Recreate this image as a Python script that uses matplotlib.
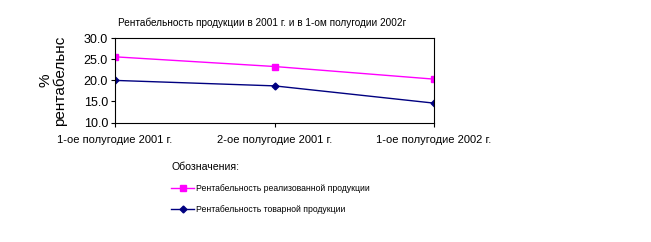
import matplotlib
matplotlib.use("Agg")
from matplotlib import pyplot as plt

periods = ["1-ое полугодие 2001 г.", "2-ое полугодие 2001 г.", "1-ое полугодие 2002 г."]
realized = [25.6, 23.3, 20.3]
commodity = [20.0, 18.7, 14.6]

plt.rcParams['font.family'] = ['Liberation Sans', 'DejaVu Sans']

fig = plt.figure(figsize=(6.51, 2.42), dpi=100)
ax = fig.add_axes([115/651, 1-122.5/242, (434-115)/651, (122.5-38.3)/242])

x = range(len(periods))
l1, = ax.plot(x, realized, color='#ff00ff', marker='s', markersize=5, linewidth=1,
              label="Рентабельность реализованной продукции")
l2, = ax.plot(x, commodity, color='#000080', marker='D', markersize=3.5, linewidth=1,
              label="Рентабельность товарной продукции")

ax.set_xlim(0, len(periods)-1)
ax.set_ylim(10, 30)
ax.set_yticks([10, 15, 20, 25, 30])
ax.set_yticklabels(["%.1f" % v for v in [10, 15, 20, 25, 30]], fontsize=9)
ax.set_xticks(list(x))
ax.set_xticklabels(periods, fontsize=8)
ax.tick_params(direction='out', length=3, width=0.8, pad=2)
ax.tick_params(axis='x', pad=6)
for s in ax.spines.values():
    s.set_linewidth(0.8)
    s.set_color('black')

ax.set_ylabel("%\nрентабельнс", fontsize=11, labelpad=12, linespacing=1.0)

fig.text(262/651, 1-23/242, "Рентабельность продукции в 2001 г. и в 1-ом полугодии 2002г",
         ha='center', va='center', fontsize=7.2)

leg = fig.legend(handles=[l1, l2], loc='upper left', bbox_to_anchor=(167/651, 1-158/242),
                 frameon=False, fontsize=6.2,
                 title="Обозначения:", title_fontsize=7.6,
                 handlelength=2.6, handletextpad=0.3, labelspacing=1.35, borderpad=0,
                 alignment='left')

fig.savefig("out.png", dpi=100)
